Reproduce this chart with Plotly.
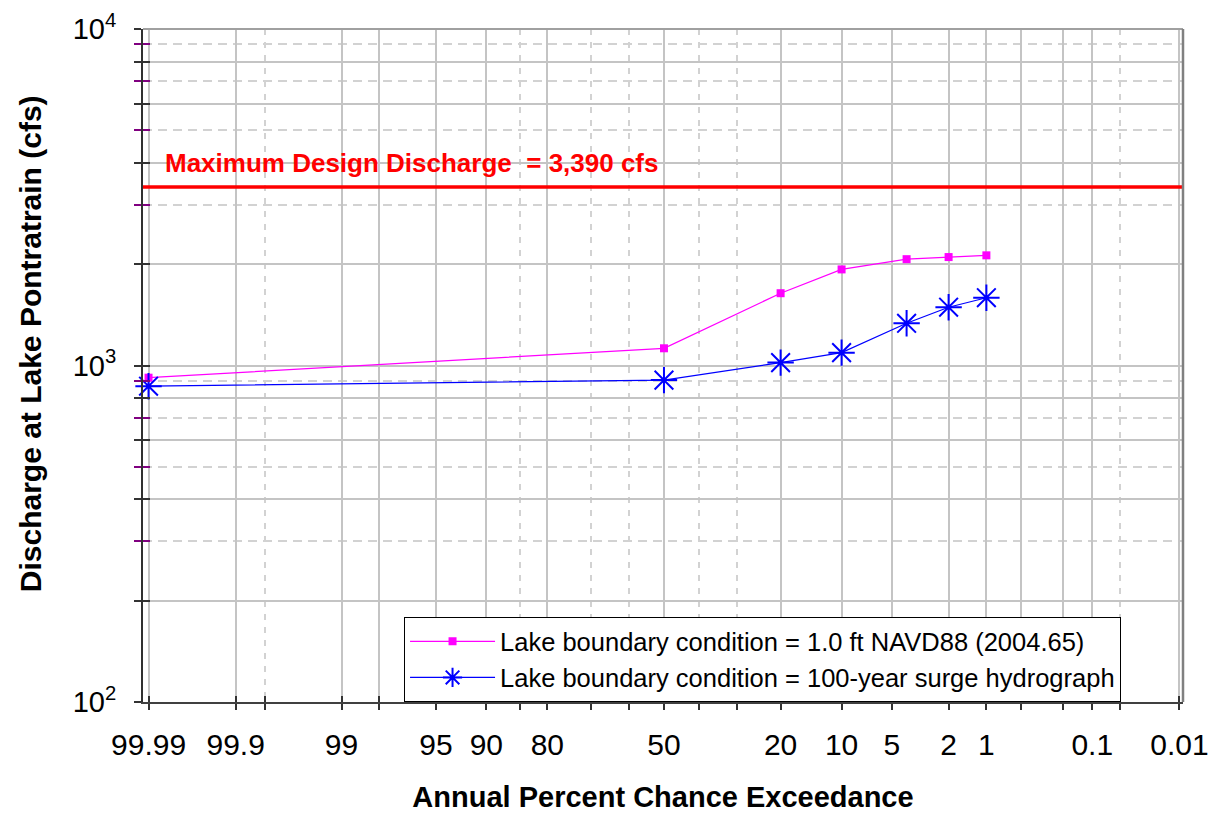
import math
from statistics import NormalDist
import plotly.graph_objects as go

# Annual percent chance exceedance for each simulated event
exceedance_pct = [99.99, 50, 20, 10, 4, 2, 1]

# Peak discharge at Lake Pontchartrain outfall (cfs)
q_lake_1ft = [920, 1125, 1640, 1930, 2070, 2100, 2125]
q_surge_100yr = [868, 905, 1020, 1092, 1335, 1490, 1590]

DESIGN_Q = 3390  # maximum design discharge (cfs)

# Probability-axis ticks (percent exceedance)
major_pct = [99.99, 99.9, 99, 98, 95, 90, 80, 50, 20, 10, 5, 2, 1, 0.5, 0.2, 0.1, 0.01]
labeled_pct = [99.99, 99.9, 99, 95, 90, 80, 50, 20, 10, 5, 2, 1, 0.1, 0.01]
minor_pct = [99.8, 85, 70, 60, 40, 30, 0.05]

# Log-axis ticks (cfs)
y_major = [100, 200, 400, 600, 800, 1000, 2000, 4000, 6000, 8000, 10000]
y_labels = {100: "10<sup>2</sup>", 1000: "10<sup>3</sup>", 10000: "10<sup>4</sup>"}
y_minor = [300, 500, 700, 900, 3000, 5000, 7000, 9000]

nd = NormalDist()


def prob_x(p):
    """Normal-probability paper coordinate for a percent exceedance."""
    return nd.inv_cdf(1 - p / 100.0)


def fmt_pct(p):
    return ("%g" % p)


x_range = [-3.759, 3.745]

x_major = [prob_x(p) for p in major_pct]
x_major_text = [fmt_pct(p) if p in labeled_pct else "" for p in major_pct]
x_minor = [prob_x(p) for p in minor_pct]

FONT = "Arial, Liberation Sans, sans-serif"

fig = go.Figure()

# Design discharge reference line
fig.add_trace(go.Scatter(
    x=x_range, y=[DESIGN_Q, DESIGN_Q], mode="lines",
    line=dict(color="#FF0000", width=3.5), showlegend=False, hoverinfo="skip",
    cliponaxis=False,
))

fig.add_trace(go.Scatter(
    x=[prob_x(p) for p in exceedance_pct], y=q_lake_1ft,
    mode="lines+markers",
    name="Lake boundary condition = 1.0 ft NAVD88 (2004.65)",
    line=dict(color="#FF00FF", width=1.2),
    marker=dict(symbol="square", size=8, color="#FF00FF"),
    cliponaxis=False,
))

fig.add_trace(go.Scatter(
    x=[prob_x(p) for p in exceedance_pct], y=q_surge_100yr,
    mode="lines+markers",
    name="Lake boundary condition = 100-year surge hydrograph",
    line=dict(color="#0000FF", width=1.2),
    marker=dict(symbol="asterisk-open", size=22,
                line=dict(color="#0000FF", width=2)),
    cliponaxis=False,
))

# Empty trace hosting the overlay axes that carry the inner half of the ticks
fig.add_trace(go.Scatter(x=[], y=[], xaxis="x2", yaxis="y2",
                         showlegend=False, hoverinfo="skip"))

grid_solid = "#c4c4c4"
grid_dash = "#d2d2d2"

fig.update_layout(
    width=1217, height=813,
    margin=dict(l=143, r=34, t=29, b=111),
    paper_bgcolor="white", plot_bgcolor="white",
    font=dict(family=FONT, color="black"),
    xaxis=dict(
        type="linear", range=x_range, automargin=False,
        tickmode="array", tickvals=x_major, ticktext=x_major_text,
        ticks="outside", ticklen=6, tickwidth=1.5, tickcolor="#333333",
        tickfont=dict(size=30, family=FONT),
        ticklabelstandoff=9,
        showgrid=True, gridcolor=grid_solid, gridwidth=2,
        minor=dict(tickvals=x_minor, ticks="outside", ticklen=6,
                   tickwidth=1.5, tickcolor="#333333",
                   showgrid=True, gridcolor=grid_dash, gridwidth=1.5,
                   griddash="6px,7px"),
        showline=True, linecolor="#404040", linewidth=2,
        zeroline=False,
        title=dict(text="<b>Annual Percent Chance Exceedance</b>",
                   font=dict(size=29, family=FONT), standoff=30),
    ),
    yaxis=dict(
        type="log", range=[2, 4], automargin=False,
        tickmode="array", tickvals=y_major,
        ticktext=[y_labels.get(v, "") for v in y_major],
        ticks="outside", ticklen=7, tickwidth=1.5, tickcolor="#333333",
        tickfont=dict(size=29, family=FONT),
        ticklabelstandoff=12,
        showgrid=True, gridcolor=grid_solid, gridwidth=2,
        minor=dict(tickvals=y_minor, ticks="outside", ticklen=7,
                   tickwidth=1.5, tickcolor="#800080",
                   showgrid=True, gridcolor=grid_dash, gridwidth=1.5,
                   griddash="9px,6px"),
        showline=True, linecolor="#303030", linewidth=2,
        zeroline=False,
    ),
    xaxis2=dict(
        overlaying="x", anchor="y2", side="bottom", range=x_range,
        automargin=False,
        tickmode="array", tickvals=x_major, showticklabels=False,
        ticks="inside", ticklen=6, tickwidth=1.5, tickcolor="#333333",
        minor=dict(tickvals=x_minor, ticks="inside", ticklen=6,
                   tickwidth=1.5, tickcolor="#333333", showgrid=False),
        showgrid=False, showline=False, zeroline=False,
    ),
    yaxis2=dict(
        overlaying="y", anchor="x2", side="left", type="log", range=[2, 4],
        automargin=False,
        tickmode="array", tickvals=y_major, showticklabels=False,
        ticks="inside", ticklen=7, tickwidth=1.5, tickcolor="#333333",
        minor=dict(tickvals=y_minor, ticks="inside", ticklen=7,
                   tickwidth=1.5, tickcolor="#800080", showgrid=False),
        showgrid=False, showline=False, zeroline=False,
    ),
    legend=dict(
        x=0.251, y=0.126, xanchor="left", yanchor="top",
        bgcolor="white", bordercolor="black", borderwidth=1,
        font=dict(size=25.5, family=FONT), itemwidth=85,
        tracegroupgap=0,
    ),
    shapes=[
        dict(type="line", xref="paper", yref="paper", x0=0, x1=1, y0=1, y1=1,
             line=dict(color="#a0a0a0", width=2), layer="above"),
        dict(type="line", xref="paper", yref="paper", x0=1, x1=1, y0=0, y1=1,
             line=dict(color="#808080", width=2.5), layer="above"),
    ],
    annotations=[
        dict(text="<b>Maximum Design Discharge  = {:,} cfs</b>".format(DESIGN_Q),
             xref="paper", x=0.0192, xanchor="left",
             yref="y", y=math.log10(DESIGN_Q), yanchor="bottom", yshift=7,
             showarrow=False, font=dict(size=26, color="#FF0000", family=FONT)),
        dict(text="<b>Discharge at Lake Pontratrain (cfs)</b>",
             xref="paper", x=-0.1087, xanchor="center",
             yref="paper", y=0.533, yanchor="middle", textangle=-90,
             showarrow=False, font=dict(size=30, color="black", family=FONT)),
    ],
    showlegend=True,
)

fig.write_html("out.html")
